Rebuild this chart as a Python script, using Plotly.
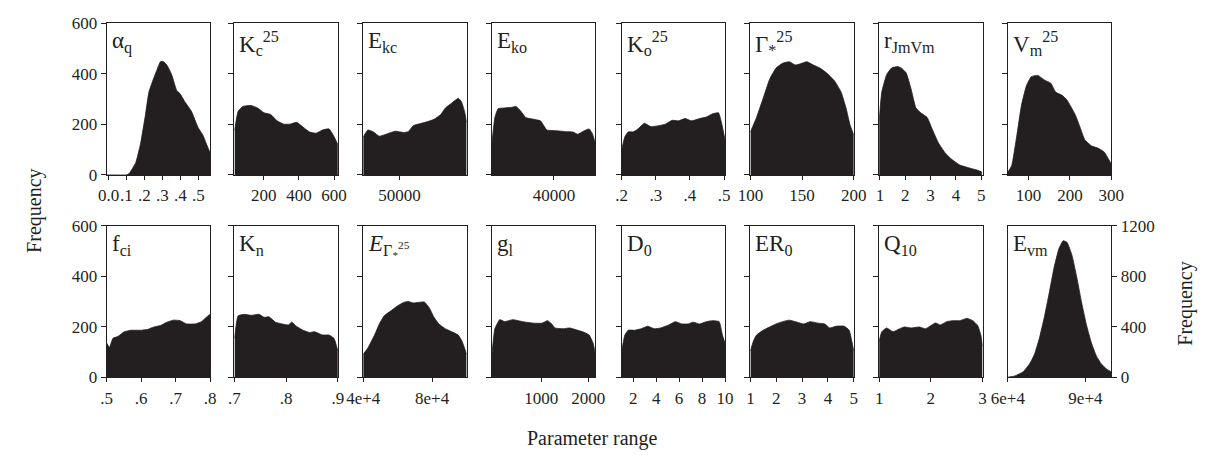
import plotly.graph_objects as go

FONT = "Liberation Serif, Times New Roman, Times, serif"
INK = "#231f20"

# ---------------- data ----------------
aq_x = [-0.01, 0.0, 0.10, 0.115, 0.152, 0.179, 0.206, 0.225, 0.243, 0.270, 0.289, 0.307, 0.325, 0.352, 0.380, 0.398, 0.425, 0.462, 0.498, 0.526, 0.544, 0.566]
aq_y = [0, 0, 0, 5, 49, 125, 239, 328, 366, 416, 448, 448, 435, 397, 334, 322, 290, 252, 189, 157, 125, 87]

kc_x = [33, 54, 81, 127, 165, 201, 239, 276, 313, 350, 387, 424, 461, 498, 535, 572, 600, 622]
kc_y = [176, 252, 271, 275, 265, 246, 239, 214, 201, 201, 208, 189, 170, 165, 178, 182, 152, 120]

ekc_x = [43000, 43900, 44900, 46100, 47700, 49200, 50800, 51700, 52700, 54200, 55500, 56700, 58000, 58900, 60100, 61400, 62000, 62600, 63000]
ekc_y = [150, 178, 171, 153, 163, 173, 168, 171, 195, 204, 211, 220, 239, 265, 284, 303, 290, 252, 208]

eko_x = [25000, 25700, 26490, 28070, 29650, 30820, 32000, 33180, 35140, 36720, 38280, 40630, 42990, 44570, 45750, 47330, 48510, 49290, 50000]
eko_y = [125, 227, 262, 265, 267, 271, 252, 227, 220, 214, 178, 175, 171, 170, 161, 175, 182, 163, 125]

ko_x = [0.2, 0.2094, 0.2191, 0.2334, 0.2477, 0.2666, 0.2857, 0.3095, 0.3286, 0.3478, 0.3666, 0.3858, 0.4049, 0.4286, 0.4478, 0.4667, 0.4838, 0.4935, 0.503]
ko_y = [100, 151, 170, 170, 182, 204, 191, 195, 201, 216, 214, 223, 214, 223, 229, 242, 246, 201, 138]

gs_x = [100, 105.9, 112.3, 118.6, 124.8, 131.1, 137.5, 143.7, 148.4, 154.7, 161.0, 167.3, 173.6, 181.4, 187.7, 192.5, 196.2, 200]
gs_y = [170, 227, 303, 379, 423, 442, 448, 435, 440, 448, 435, 423, 404, 372, 328, 265, 201, 157]

rj_x = [0.97, 1.074, 1.266, 1.459, 1.713, 1.844, 2.036, 2.229, 2.421, 2.614, 2.868, 3.061, 3.319, 3.576, 3.831, 4.154, 4.539, 4.859, 5.024]
rj_y = [214, 328, 397, 423, 429, 423, 404, 341, 265, 246, 227, 182, 125, 87, 62, 39, 27, 18, 11]

vm_x = [50, 59.4, 71.2, 83.0, 94.8, 106.6, 122.4, 138.0, 153.8, 165.5, 181.3, 193.1, 212.7, 224.5, 236.3, 252.1, 267.6, 283.4, 293.6, 300]
vm_y = [11, 37, 151, 277, 353, 389, 394, 376, 363, 328, 315, 296, 239, 189, 138, 115, 106, 90, 62, 43]

fci_x = [0.5, 0.508, 0.518, 0.532, 0.551, 0.571, 0.599, 0.618, 0.637, 0.656, 0.675, 0.694, 0.713, 0.732, 0.756, 0.775, 0.789, 0.8]
fci_y = [135, 118, 154, 161, 180, 186, 186, 189, 199, 205, 218, 226, 224, 211, 211, 220, 237, 249]

kn_x = [0.7, 0.707, 0.7194, 0.732, 0.7477, 0.7572, 0.7666, 0.7793, 0.7919, 0.8044, 0.8108, 0.8202, 0.8327, 0.8453, 0.8547, 0.8704, 0.883, 0.8925, 0.9]
kn_y = [154, 243, 249, 245, 249, 237, 239, 218, 211, 207, 218, 201, 186, 177, 180, 167, 167, 154, 104]

egs_x = [40000, 42800, 46560, 49360, 52170, 55870, 59620, 63380, 66180, 68990, 71790, 75490, 78300, 81100, 83900, 87660, 91420, 95120, 97360, 100000]
egs_y = [91, 117, 167, 211, 243, 262, 281, 296, 300, 294, 296, 298, 275, 237, 211, 192, 180, 167, 142, 91]

gl_x = [-50, 12, 116, 220, 392, 531, 670, 842, 1014, 1133, 1222, 1293, 1465, 1604, 1741, 1880, 2019, 2102, 2150]
gl_y = [91, 192, 228, 220, 228, 223, 218, 214, 214, 224, 211, 195, 192, 195, 188, 180, 167, 135, 91]

d0_x = [1, 1.28, 1.57, 2.13, 2.70, 3.27, 3.83, 4.40, 5.10, 5.67, 6.24, 6.80, 7.22, 7.79, 8.36, 8.92, 9.49, 9.77, 10.0]
d0_y = [104, 167, 186, 186, 192, 202, 192, 195, 207, 220, 211, 211, 218, 211, 220, 224, 220, 167, 135]

er_x = [1.0, 1.113, 1.238, 1.491, 1.743, 1.993, 2.245, 2.498, 2.812, 3.064, 3.313, 3.630, 3.880, 4.068, 4.321, 4.634, 4.823, 4.925, 5.0]
er_y = [104, 142, 167, 186, 199, 211, 220, 226, 218, 211, 220, 214, 211, 195, 202, 202, 186, 142, 104]

q10_x = [1.0, 1.051, 1.145, 1.270, 1.396, 1.491, 1.617, 1.774, 1.900, 2.089, 2.183, 2.308, 2.434, 2.561, 2.698, 2.812, 2.906, 2.968, 3.0]
q10_y = [142, 180, 195, 180, 192, 199, 195, 199, 192, 215, 207, 220, 224, 224, 233, 224, 205, 167, 123]

evm_x = [60000, 62760, 65930, 68420, 70300, 72190, 74080, 75960, 77850, 79740, 81400, 82910, 84790, 86680, 88570, 90460, 92340, 94230, 96120, 98000, 99890]
evm_y = [0, 10, 43, 106, 182, 309, 473, 663, 866, 1018, 1081, 1068, 967, 790, 587, 410, 271, 169, 106, 68, 43]

# tick labels
aq_tv, aq_tt = [0, 0.1, 0.2, 0.3, 0.4, 0.5], ["0.0", ".1", ".2", ".3", ".4", ".5"]
kc_tv, kc_tt = [200, 400, 600], ["200", "400", "600"]
ekc_tv, ekc_tt = [50000], ["50000"]
eko_tv, eko_tt = [40000], ["40000"]
ko_tv, ko_tt = [0.2, 0.3, 0.4, 0.5], [".2", ".3", ".4", ".5"]
gs_tv, gs_tt = [100, 150, 200], ["100", "150", "200"]
rj_tv, rj_tt = [1, 2, 3, 4, 5], ["1", "2", "3", "4", "5"]
vm_tv, vm_tt = [100, 200, 300], ["100", "200", "300"]
fci_tv, fci_tt = [0.5, 0.6, 0.7, 0.8], [".5", ".6", ".7", ".8"]
kn_tv, kn_tt = [0.7, 0.8, 0.9], [".7", ".8", ".9"]
egs_tv, egs_tt = [40000, 80000], ["4e+4", "8e+4"]
gl_tv, gl_tt = [1000, 2000], ["1000", "2000"]
d0_tv, d0_tt = [2, 4, 6, 8, 10], ["2", "4", "6", "8", "10"]
er_tv, er_tt = [1, 2, 3, 4, 5], ["1", "2", "3", "4", "5"]
q10_tv, q10_tt = [1, 2, 3], ["1", "2", "3"]
evm_tv, evm_tt = [60000, 90000], ["6e+4", "9e+4"]

freq_ticks = [0, 200, 400, 600]
evm_freq_ticks = [0, 400, 800, 1200]

panels = [
    ("α<sub>q</sub>", aq_x, aq_y, [-0.01, 0.566], aq_tv, aq_tt),
    ("K<sub>c</sub><sup>25</sup>", kc_x, kc_y, [33, 622], kc_tv, kc_tt),
    ("E<sub>kc</sub>", ekc_x, ekc_y, [43000, 63000], ekc_tv, ekc_tt),
    ("E<sub>ko</sub>", eko_x, eko_y, [25000, 50000], eko_tv, eko_tt),
    ("K<sub>o</sub><sup>25</sup>", ko_x, ko_y, [0.2, 0.503], ko_tv, ko_tt),
    ("Γ<sub>*</sub><sup>25</sup>", gs_x, gs_y, [100, 200], gs_tv, gs_tt),
    ("r<sub>JmVm</sub>", rj_x, rj_y, [0.97, 5.05], rj_tv, rj_tt),
    ("V<sub>m</sub><sup>25</sup>", vm_x, vm_y, [50, 300], vm_tv, vm_tt),
    ("f<sub>ci</sub>", fci_x, fci_y, [0.5, 0.8], fci_tv, fci_tt),
    ("K<sub>n</sub>", kn_x, kn_y, [0.7, 0.9], kn_tv, kn_tt),
    ("<i>E</i><sub>Γ<sub>*</sub><sup>25</sup></sub>", egs_x, egs_y, [40000, 100000], egs_tv, egs_tt),
    ("g<sub>l</sub>", gl_x, gl_y, [-50, 2150], gl_tv, gl_tt),
    ("D<sub>0</sub>", d0_x, d0_y, [1, 10], d0_tv, d0_tt),
    ("ER<sub>0</sub>", er_x, er_y, [1, 5], er_tv, er_tt),
    ("Q<sub>10</sub>", q10_x, q10_y, [1, 3], q10_tv, q10_tt),
    ("E<sub>vm</sub>", evm_x, evm_y, [60000, 100000], evm_tv, evm_tt),
]

# ---------------- layout geometry (pixels) ----------------
W, H = 1213, 462
LEFTS = [92, 223, 355, 487, 620, 752, 884, 1016]
PW = 106
ROWS = [(15, 173), (226, 384)]

fig = go.Figure()
layout = dict(
    width=W, height=H, margin=dict(l=0, r=0, t=0, b=0),
    paper_bgcolor="white", plot_bgcolor="white", showlegend=False,
    font=dict(family=FONT, size=17, color=INK),
)
annotations = []

for i, (label, xs, ys, xr, tv, tt) in enumerate(panels):
    n = i + 1
    row, col = divmod(i, 8)
    left = LEFTS[col]
    top, bot = ROWS[row]
    xs_name = "x" if n == 1 else f"x{n}"
    ys_name = "y" if n == 1 else f"y{n}"
    fig.add_trace(go.Scatter(
        x=xs, y=ys, xaxis=xs_name, yaxis=ys_name, mode="lines",
        fill="tozeroy", fillcolor=INK, line=dict(color=INK, width=0.8, shape="spline", smoothing=0.4),
        hoverinfo="skip",
    ))
    common = dict(showline=True, linecolor=INK, linewidth=1, mirror=True, showgrid=False,
                  zeroline=False, ticks="outside", ticklen=4, tickcolor=INK, tickwidth=1,
                  tickfont=dict(family=FONT, size=17, color=INK))
    layout["xaxis" if n == 1 else f"xaxis{n}"] = dict(
        common, domain=[left / W, (left + PW) / W], anchor=ys_name, range=xr,
        tickmode="array", tickvals=tv, ticktext=tt, tickangle=0, ticklabelstandoff=1,
    )
    is_evm = (n == 16)
    ydict = dict(common, domain=[1 - bot / H, 1 - top / H], anchor=xs_name,
                 tickmode="array", ticklen=5)
    if is_evm:
        ydict.update(range=[0, 1200], tickvals=evm_freq_ticks,
                     ticktext=[str(v) for v in evm_freq_ticks], side="right", showticklabels=True)
    else:
        ydict.update(range=[0, 600], tickvals=freq_ticks,
                     ticktext=[str(v) for v in freq_ticks], showticklabels=(col == 0))
    layout["yaxis" if n == 1 else f"yaxis{n}"] = ydict

    annotations.append(dict(
        text=label, xref="paper", yref="paper", x=(left + 3) / W, y=1 - (top + 3) / H,
        xanchor="left", yanchor="top", showarrow=False,
        font=dict(family=FONT, size=23, color=INK),
    ))

annotations += [
    dict(text="Frequency", xref="paper", yref="paper", x=18 / W, y=1 - 211 / H,
         textangle=-90, showarrow=False, xanchor="center", yanchor="middle",
         font=dict(family=FONT, size=20, color=INK)),
    dict(text="Frequency", xref="paper", yref="paper", x=1198 / W, y=1 - 307 / H,
         textangle=-90, showarrow=False, xanchor="center", yanchor="middle",
         font=dict(family=FONT, size=20, color=INK)),
    dict(text="Parameter range", xref="paper", yref="paper", x=590 / W, y=1 - 448 / H,
         showarrow=False, xanchor="center", yanchor="middle",
         font=dict(family=FONT, size=20, color=INK)),
]
layout["annotations"] = annotations
fig.update_layout(**layout)
fig.write_html("out.html")
